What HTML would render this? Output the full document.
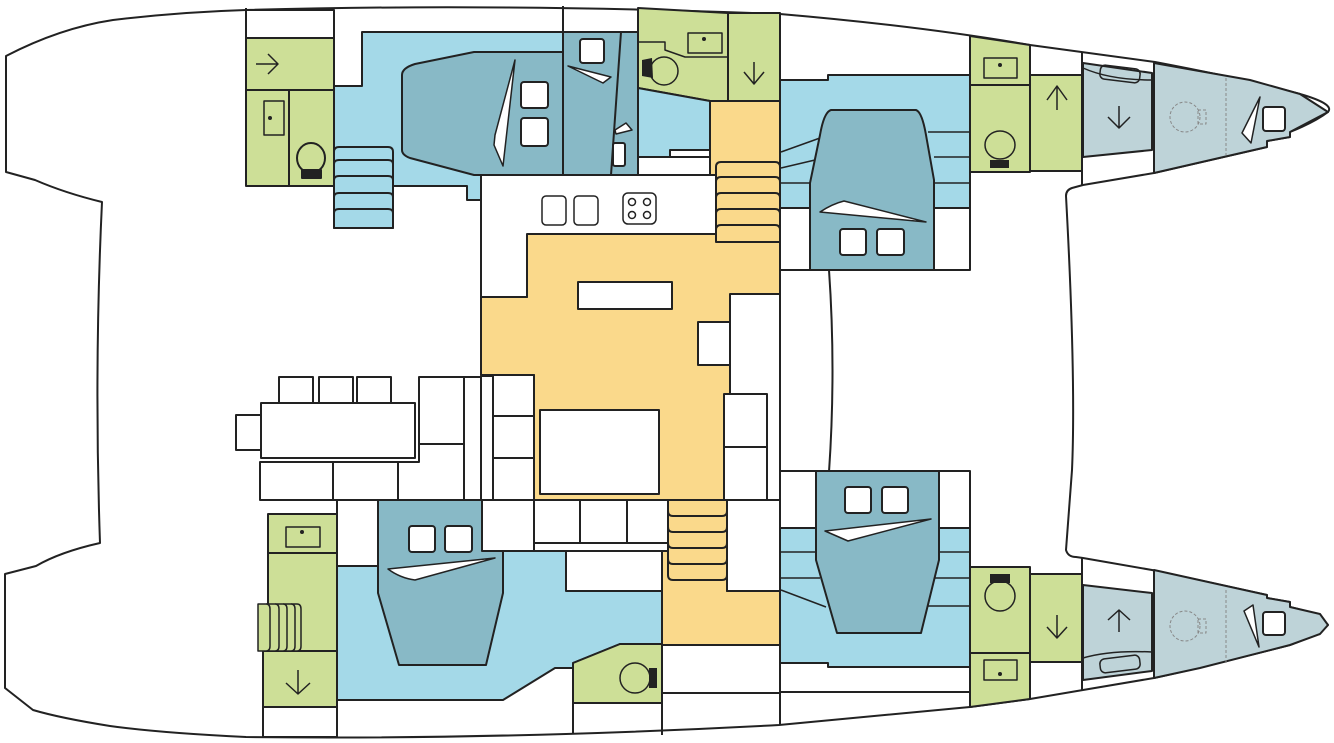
<!DOCTYPE html>
<html><head><meta charset="utf-8"><style>
html,body{margin:0;padding:0;background:#fff;}
svg{display:block;}
</style></head><body>
<svg width="1334" height="743" viewBox="0 0 1334 743" xmlns="http://www.w3.org/2000/svg">
<g stroke="#222" stroke-width="2" stroke-linejoin="round" fill="none">

<path fill="#fff" d="M6,56 Q60,28 113,20 Q180,12 246,10 Q500,3 780,14 Q920,26 1030,45 L1155,62 Q1250,80 1300,94 Q1335,104 1328,112 Q1315,122 1290,132 L1290,137 L1267,141 L1267,147 L1154,173 L1083,185 L1072,188 Q1066,190 1066,196 Q1076,380 1072,470 L1066,550 Q1068,557 1076,557 L1083,558 L1152,570 L1267,595 L1267,598 L1290,602 L1290,607 Q1320,614 1328,625 Q1320,634 1290,645 Q1200,668 1154,678 L1083,690 L1030,699 L970,707 L779,725 Q500,740 246,737 Q160,733 110,726 Q60,718 33,710 L5,688 L5,574 L36,566 Q60,552 100,543 Q94,370 102,202 Q65,193 35,180 L6,172 Z"/>

<rect x="246" y="10" width="88" height="28" fill="#fff"/>
<rect x="246" y="38" width="88" height="52" fill="#cddf97"/>
<rect x="246" y="90" width="43" height="96" fill="#cddf97"/>
<rect x="289" y="90" width="45" height="96" fill="#cddf97"/>
<path stroke-width="1.5" d="M256,64 H278 M268,54 L278,64 L268,74"/>
<rect x="264" y="101" width="20" height="34" fill="none" stroke-width="1.5"/>
<circle cx="270" cy="118" r="2" fill="#222" stroke="none"/>
<ellipse cx="311" cy="158" rx="14" ry="15" fill="#cddf97"/>
<rect x="302" y="170" width="19" height="8" fill="#222"/>

<polygon fill="#a4d9e8" points="334,86 362,86 362,32 638,32 638,175 481,175 481,200 467,200 467,186 393,186 393,228 334,228"/>
<path d="M334,10 V86 M563,6 V32 M638,8 V32 M362,32 H638"/>
<g fill="#a4d9e8">
<path d="M334,228 V152 Q334,147 339,147 H388 Q393,147 393,152 V228 Z"/>
<path d="M334,164 Q334,160 339,160 H388 Q393,160 393,164"/>
<path d="M334,180 Q334,176 339,176 H388 Q393,176 393,180"/>
<path d="M334,197 Q334,193 339,193 H388 Q393,193 393,197"/>
<path d="M334,213 Q334,209 339,209 H388 Q393,209 393,213"/>
</g>
<path fill="#88b9c6" d="M402,75 Q402,68 415,64 L474,52 H563 V32 H638 V175 H474 L410,158 Q402,155 402,150 Z"/>
<path d="M563,32 V175 M621,32 L611,175"/>
<rect x="521" y="82" width="27" height="26" rx="3" fill="#fff"/>
<rect x="521" y="118" width="27" height="28" rx="3" fill="#fff"/>
<rect x="580" y="39" width="24" height="24" rx="3" fill="#fff"/>
<rect x="613" y="143" width="12" height="23" rx="2" fill="#fff"/>
<polygon fill="#fff" stroke-width="1.5" points="515,60 503,166 494,145 495,135"/>
<polygon fill="#fff" stroke-width="1.5" points="568,66 611,77 603,83"/>
<polygon fill="#fff" stroke-width="1.5" points="615,130 626,123 632,130 616,134"/>

<polygon fill="#cddf97" points="638,8 728,13 728,101 710,101 638,88"/>
<rect x="728" y="13" width="52" height="88" fill="#cddf97"/>
<path stroke-width="1.5" d="M638,42 H665 V50 L685,57 H728"/>
<rect x="688" y="33" width="34" height="20" stroke-width="1.5"/>
<circle cx="704" cy="39" r="2" fill="#222" stroke="none"/>
<circle cx="664" cy="71" r="14" fill="#cddf97" stroke-width="1.5"/>
<polygon points="642,60 652,58 653,78 642,76" fill="#222" stroke="none"/>
<path stroke-width="1.5" d="M754,62 V84 M744,72 L754,84 L764,72"/>
<polygon fill="#a4d9e8" points="638,88 710,101 710,150 670,150 670,157 638,157"/>
<rect x="638" y="157" width="72" height="18" fill="#fff"/>

<rect x="710" y="101" width="70" height="140" fill="#fad98b"/>
<polygon fill="#fad98b" points="527,234 780,234 780,500 534,500 534,375 481,375 481,297 527,297"/>
<polygon fill="#fff" points="481,175 716,175 716,234 527,234 527,297 481,297"/>
<rect x="542" y="196" width="24" height="29" rx="4" stroke-width="1.5"/>
<rect x="574" y="196" width="24" height="29" rx="4" stroke-width="1.5"/>
<rect x="623" y="193" width="33" height="31" rx="5" stroke-width="1.5"/>
<g stroke-width="1.5"><circle cx="632" cy="202" r="3.5"/><circle cx="647" cy="202" r="3.5"/><circle cx="632" cy="215" r="3.5"/><circle cx="647" cy="215" r="3.5"/></g>
<g fill="#fad98b">
<path d="M716,242 V167 Q716,162 721,162 H775 Q780,162 780,167 V242 Z"/>
<path d="M716,182 Q716,177 721,177 H775 Q780,177 780,182"/>
<path d="M716,198 Q716,193 721,193 H775 Q780,193 780,198"/>
<path d="M716,214 Q716,209 721,209 H775 Q780,209 780,214"/>
<path d="M716,230 Q716,225 721,225 H775 Q780,225 780,230"/>
</g>
<rect x="578" y="282" width="94" height="27" fill="#fff"/>
<rect x="540" y="410" width="119" height="84" fill="#fff"/>
<rect x="698" y="322" width="32" height="43" fill="#fff"/>
<rect x="730" y="294" width="50" height="206" fill="#fff"/>
<rect x="724" y="394" width="43" height="53" fill="#fff"/>
<rect x="724" y="447" width="43" height="53" fill="#fff"/>
<rect x="481" y="376" width="12" height="124" fill="#fff"/>
<rect x="493" y="375" width="41" height="41" fill="#fff"/>
<rect x="493" y="416" width="41" height="42" fill="#fff"/>
<rect x="493" y="458" width="41" height="42" fill="#fff"/>

<rect x="279" y="377" width="34" height="26" fill="#fff"/>
<rect x="319" y="377" width="34" height="26" fill="#fff"/>
<rect x="357" y="377" width="34" height="26" fill="#fff"/>
<rect x="236" y="415" width="25" height="35" fill="#fff"/>
<rect x="261" y="403" width="154" height="55" fill="#fff"/>
<rect x="260" y="462" width="73" height="38" fill="#fff"/>
<rect x="333" y="462" width="65" height="38" fill="#fff"/>
<path fill="#fff" d="M419,377 H464 V500 H398 V462 H419 Z"/>
<path d="M419,444 H464"/>
<rect x="464" y="377" width="17" height="123" fill="#fff"/>

<path d="M780,14 V500"/>
<path d="M829,270 Q836,370 829,472"/>

<polygon fill="#a4d9e8" points="780,80 828,80 828,75 970,75 970,208 780,208"/>
<rect x="780" y="208" width="30" height="62" fill="#fff"/>
<rect x="934" y="208" width="36" height="62" fill="#fff"/>
<path stroke-width="1.5" d="M781,152 L820,138 M781,168 L815,160 M781,183 H810 M781,208 H810 M928,132 H970 M934,157 H970 M934,183 H970 M934,208 H970"/>
<path fill="#88b9c6" d="M831,110 H916 Q922,112 926,135 L934,180 V270 H810 V183 L820,135 Q824,112 831,110 Z"/>
<rect x="840" y="229" width="26" height="26" rx="3" fill="#fff"/>
<rect x="877" y="229" width="27" height="26" rx="3" fill="#fff"/>
<path fill="#fff" stroke-width="1.5" d="M820,212 Q832,204 844,201 L926,222 Z"/>
<path d="M780,270 H970 M970,36 V270"/>

<polygon fill="#cddf97" points="970,36 1030,45 1030,172 970,172"/>
<path d="M970,85 H1030"/>
<rect x="984" y="58" width="33" height="20" stroke-width="1.5"/>
<circle cx="1000" cy="65" r="2" fill="#222" stroke="none"/>
<ellipse cx="1000" cy="145" rx="15" ry="14" fill="#cddf97" stroke-width="1.5"/>
<rect x="990" y="160" width="19" height="8" fill="#222" stroke="none"/>
<rect x="1030" y="75" width="52" height="96" fill="#cddf97"/>
<path d="M1030,45 V75 M1082,52 V185"/>
<path stroke-width="1.5" d="M1057,86 V110 M1047,100 L1057,86 L1067,100"/>
<polygon fill="#bed3d8" points="1083,63 1152,73 1152,150 1083,157"/>
<polygon fill="#bed3d8" points="1154,63 1250,80 1300,94 1328,112 1290,132 1290,137 1267,141 1267,147 1154,173"/>
<rect x="1100" y="67" width="40" height="14" rx="5" transform="rotate(7 1120 74)" stroke-width="1.5"/>
<path d="M1083,68 Q1110,80 1152,80" stroke-width="1.5"/>
<path stroke-width="1.5" d="M1119,106 V128 M1108,117 L1119,128 L1130,117"/>
<g stroke="#888" stroke-width="1" stroke-dasharray="3,2"><circle cx="1185" cy="117" r="15"/><rect x="1198" y="110" width="8" height="14"/><path d="M1226,78 V155"/></g>
<rect x="1263" y="107" width="22" height="24" rx="3" fill="#fff"/>
<polygon fill="#fff" stroke-width="1.5" points="1260,97 1242,133 1251,143"/>

<polygon fill="#a4d9e8" points="780,528 970,528 970,667 828,667 828,663 780,663"/>
<rect x="780" y="471" width="36" height="57" fill="#fff"/>
<rect x="939" y="471" width="31" height="57" fill="#fff"/>
<path stroke-width="1.5" d="M781,552 H816 M781,578 H820 M781,590 L826,607 M930,552 H970 M930,578 H970 M925,606 H970"/>
<path fill="#88b9c6" d="M816,471 H939 V560 L921,633 H837 L816,560 Z"/>
<rect x="845" y="487" width="26" height="26" rx="3" fill="#fff"/>
<rect x="882" y="487" width="26" height="26" rx="3" fill="#fff"/>
<path fill="#fff" stroke-width="1.5" d="M825,531 L848,541 L931,519 Z"/>
<path d="M780,471 H970 M970,471 V707 M780,500 V725 M780,692 H970"/>
<polygon fill="#cddf97" points="970,567 1030,567 1030,699 970,707"/>
<path d="M970,653 H1030"/>
<ellipse cx="1000" cy="596" rx="15" ry="15" fill="#cddf97" stroke-width="1.5"/>
<rect x="990" y="574" width="20" height="9" fill="#222" stroke="none"/>
<rect x="984" y="660" width="33" height="20" stroke-width="1.5"/>
<circle cx="1000" cy="674" r="2" fill="#222" stroke="none"/>
<rect x="1030" y="574" width="52" height="88" fill="#cddf97"/>
<path d="M1030,662 V699 M1082,558 V690"/>
<path stroke-width="1.5" d="M1057,615 V638 M1047,627 L1057,638 L1067,627"/>
<polygon fill="#bed3d8" points="1083,585 1152,593 1152,671 1083,680"/>
<polygon fill="#bed3d8" points="1154,570 1267,595 1267,598 1290,602 1290,607 1320,614 1328,625 1320,634 1290,645 1200,668 1154,678"/>
<path d="M1083,658 Q1110,650 1152,652" stroke-width="1.5"/>
<rect x="1100" y="657" width="40" height="14" rx="5" transform="rotate(-7 1120 664)" stroke-width="1.5"/>
<path stroke-width="1.5" d="M1119,610 V632 M1108,620 L1119,610 L1130,620"/>
<g stroke="#888" stroke-width="1" stroke-dasharray="3,2"><circle cx="1185" cy="626" r="15"/><rect x="1198" y="619" width="8" height="14"/><path d="M1226,590 V665"/></g>
<rect x="1263" y="612" width="22" height="23" rx="3" fill="#fff"/>
<polygon fill="#fff" stroke-width="1.5" points="1253,605 1244,611 1259,647"/>

<path d="M260,500 H780"/>
<rect x="268" y="514" width="69" height="39" fill="#cddf97"/>
<rect x="268" y="553" width="69" height="98" fill="#cddf97"/>
<rect x="263" y="651" width="74" height="56" fill="#cddf97"/>
<rect x="263" y="707" width="74" height="30" fill="#fff"/>
<rect x="286" y="527" width="34" height="20" stroke-width="1.5"/>
<circle cx="302" cy="532" r="2" fill="#222" stroke="none"/>
<g fill="#cddf97" stroke-width="1.5">
<path d="M258,604 H297 Q301,604 301,609 V646 Q301,651 297,651 H258 Z"/>
<path d="M266,604 Q270,604 270,609 V646 Q270,651 266,651 M275,604 Q279,604 279,609 V646 Q279,651 275,651 M283,604 Q287,604 287,609 V646 Q287,651 283,651 M291,604 Q295,604 295,609 V646 Q295,651 291,651"/>
</g>
<path stroke-width="1.5" d="M298,670 V694 M286,683 L298,694 L310,683"/>
<rect x="337" y="500" width="41" height="66" fill="#fff"/>
<polygon fill="#a4d9e8" points="337,566 378,566 378,551 662,551 662,644 620,644 573,663 573,668 555,668 503,700 337,700"/>
<rect x="566" y="551" width="96" height="40" fill="#fff"/>
<path fill="#88b9c6" d="M378,500 H503 V593 L486,665 H399 L378,593 Z"/>
<rect x="409" y="526" width="26" height="26" rx="3" fill="#fff"/>
<rect x="445" y="526" width="27" height="26" rx="3" fill="#fff"/>
<path fill="#fff" stroke-width="1.5" d="M388,569 L495,558 L415,580 Q400,578 388,569 Z"/>
<polygon fill="#cddf97" points="573,663 620,644 662,644 662,703 573,703"/>
<circle cx="635" cy="678" r="15" fill="#cddf97" stroke-width="1.5"/>
<rect x="649" y="668" width="8" height="20" fill="#222" stroke="none"/>
<path d="M337,700 V737 M573,703 V733 M662,644 V735"/>
<rect x="482" y="500" width="52" height="51" fill="#fff"/>
<rect x="534" y="500" width="46" height="43" fill="#fff"/>
<rect x="580" y="500" width="47" height="43" fill="#fff"/>
<rect x="627" y="500" width="41" height="43" fill="#fff"/>
<path d="M482,551 H668"/>
<polygon fill="#fad98b" points="662,551 668,551 668,500 727,500 727,591 780,591 780,645 662,645"/>
<rect x="727" y="500" width="53" height="91" fill="#fff"/>
<g fill="#fad98b">
<path d="M668,500 H727 V575 Q727,580 722,580 H673 Q668,580 668,575 Z"/>
<path d="M668,511 Q668,516 673,516 H722 Q727,516 727,511"/>
<path d="M668,527 Q668,532 673,532 H722 Q727,532 727,527"/>
<path d="M668,543 Q668,548 673,548 H722 Q727,548 727,543"/>
<path d="M668,559 Q668,564 673,564 H722 Q727,564 727,559"/>
</g>
<rect x="662" y="645" width="118" height="48" fill="#fff"/>
<path d="M246,8 V186"/>
</g>
</svg>
</body></html>
